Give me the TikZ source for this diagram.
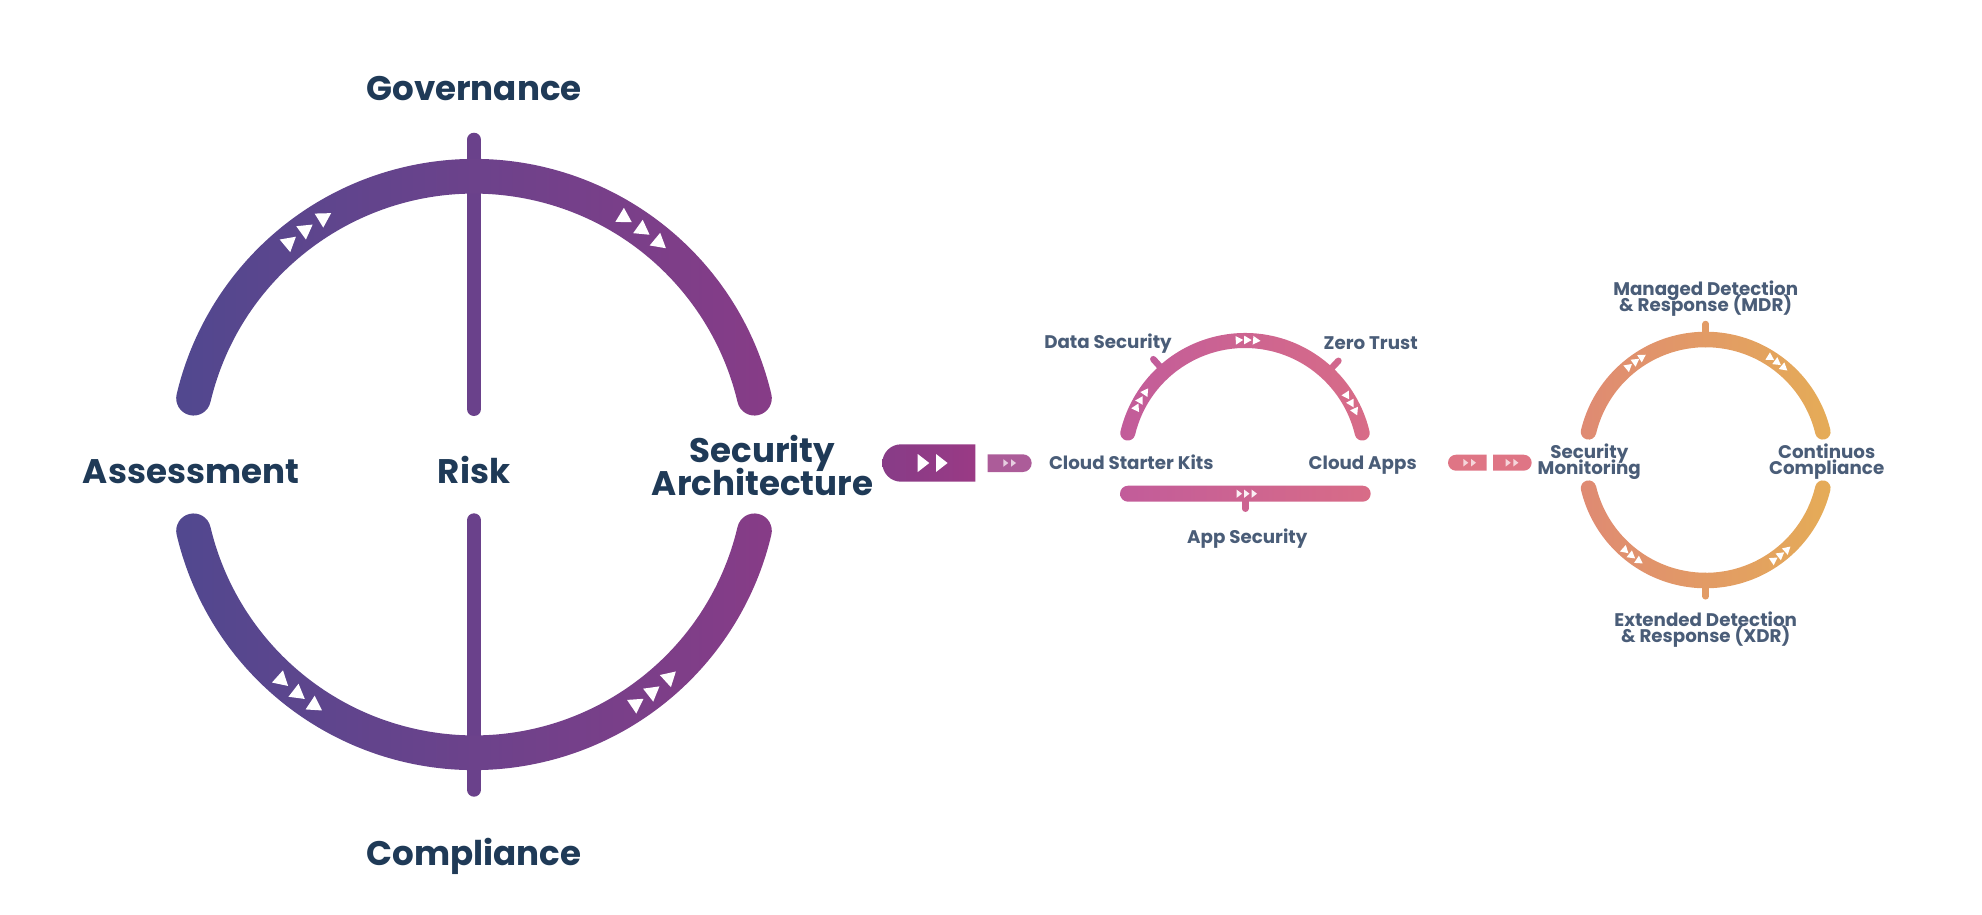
\documentclass[tikz,border=0pt]{standalone}
\usepackage{fontspec}
\setmainfont{Poppins}

\definecolor{headtext}{HTML}{1F3A57}
\definecolor{subtext}{HTML}{4A5D78}
\definecolor{bigleft}{HTML}{51488F}
\definecolor{bigright}{HTML}{873C87}
\definecolor{bigbarc}{HTML}{6A418B}
\definecolor{midleft}{HTML}{C25C9A}
\definecolor{midright}{HTML}{D86C87}
\definecolor{ringleft}{HTML}{DF8A73}
\definecolor{ringright}{HTML}{E5AC57}
\definecolor{pillend}{HTML}{9A3A85}
\definecolor{pillsmall}{HTML}{AC5C99}
\definecolor{pillpink}{HTML}{DF7585}

\newcommand{\headfont}{\fontsize{9.7}{9.4}\selectfont\bfseries\setlength{\lineskiplimit}{-9pt}}
\newcommand{\subfont}{\fontsize{5.2}{4.55}\selectfont\bfseries\setlength{\lineskiplimit}{-9pt}}

\tikzset{
    headlabel/.style={text=headtext,align=center,font=\headfont,inner sep=0pt},
    sublabel/.style={text=subtext,align=center,font=\subfont,inner sep=0pt},
    bigbar/.style={line width=.14cm,line cap=round,bigbarc},
    tickbar/.style={line width=.065cm,line cap=round},
    bigshade/.style={left color=bigleft,right color=bigright},
    midshade/.style={left color=midleft,right color=midright},
    ringshade/.style={left color=ringleft,right color=ringright}
}

% centre, radius, width, from, to, shade
\newcommand{\arcband}[6]{
    \pgfmathsetmacro\rout{#2+#3/2}
    \pgfmathsetmacro\rin{#2-#3/2}
    \pgfmathsetmacro\rcap{#3/2}
    \shade[#6,shift={(#1)}] (#4:\rout) arc[start angle=#4,end angle=#5,radius=\rout]
        arc[start angle=#5,delta angle=180,radius=\rcap]
        arc[start angle=#5,end angle=#4,radius=\rin]
        arc[start angle=#4+180,delta angle=180,radius=\rcap] -- cycle;
}
% centre, radius, angle, heading, size
\newcommand{\flowmark}[5]{
    \fill[white,shift={(#1)},shift={(#3:#2)},rotate=#4] (0:#5) -- (120:#5) -- (240:#5) -- cycle;
}
% left x, mid y, width, half height, opacity
\newcommand{\playmark}[5]{
    \fill[white,opacity=#5] (#1,#2-#4) -- (#1+#3,#2) -- (#1,#2+#4) -- cycle;
}

\begin{document}
\begin{tikzpicture}
\useasboundingbox (0,0) rectangle (19.82,9.14);

\coordinate (bigc) at (4.74,4.495);
\coordinate (midc) at (12.45,4.53);
\coordinate (ringc) at (17.057,4.54);

% big circle
\coordinate (govtop) at (4.74,7.743);
\coordinate (govend) at (4.74,5.05);
\coordinate (comtop) at (4.74,3.937);
\coordinate (comend) at (4.74,1.243);
\draw[bigbar] (govtop) -- (govend);
\draw[bigbar] (comtop) -- (comend);
\arcband{bigc}{2.882}{.347}{13.3}{166.7}{bigshade}
\arcband{bigc}{2.882}{.347}{193.3}{346.7}{bigshade}

\foreach \a in {121.5,125.8,129.9}
    {\flowmark{bigc}{2.89}{\a}{\a-90}{.095}}
\foreach \a in {50.3,54.5,58.8}
    {\flowmark{bigc}{2.89}{\a}{\a-90}{.095}}
\foreach \a in {228.1,232.3,236.4}
    {\flowmark{bigc}{2.89}{\a}{\a+90}{.095}}
\foreach \a in {304,308,312.4}
    {\flowmark{bigc}{2.89}{\a}{\a+90}{.095}}

\node[headlabel] (governance) at (4.74,8.258) {Governance};
\node[headlabel] (compliance) at (4.74,0.572) {Compliance};
\node[headlabel] (assessment) at (1.91,4.425) {Assessment};
\node[headlabel] (risk) at (4.74,4.437) {Risk};
\node[headlabel] (secarch) at (7.625,4.49) {Security\\Architecture};

% arrow pills
\shade[left color=bigright,right color=pillend] (9.753,4.697) -- (9.01,4.697)
    arc[start angle=90,end angle=270,radius=.187] -- (9.753,4.323) -- cycle;
\foreach \x in {9.177,9.36}
    {\playmark{\x}{4.51}{.116}{.09}{1}}
\fill[pillsmall] (9.877,4.597) -- (10.2285,4.597)
    arc[start angle=90,end angle=-90,radius=.0885] -- (9.877,4.42) -- cycle;
\foreach \x in {10.033,10.11}
    {\playmark{\x}{4.51}{.05}{.038}{.7}}

% middle arc
\coordinate (dataa) at ([shift={(132:1.25)}]midc);
\coordinate (datab) at ([shift={(132:1.37)}]midc);
\coordinate (zeroa) at ([shift={(47:1.25)}]midc);
\coordinate (zerob) at ([shift={(47:1.37)}]midc);
\draw[tickbar,midleft] (dataa) -- (datab);
\draw[tickbar,midright!70!midleft] (zeroa) -- (zerob);
\arcband{midc}{1.205}{.15}{13.4}{166.6}{midshade}
\foreach \a in {145.5,150,154}
    {\flowmark{midc}{1.21}{\a}{\a-90}{.05}}
\foreach \a in {85,89.2,93.2}
    {\flowmark{midc}{1.21}{\a}{\a-90}{.05}}
\foreach \a in {24.5,28.7,33}
    {\flowmark{midc}{1.21}{\a}{\a-90}{.05}}

\coordinate (appa) at (12.453,4.203);
\coordinate (appb) at (12.453,4.053);
\draw[tickbar,midleft!50!midright] (appa) -- (appb);
\shade[midshade,rounded corners=.08cm] (11.2,4.283) rectangle (13.707,4.123);
\foreach \x in {12.365,12.44,12.515}
    {\playmark{\x}{4.203}{.055}{.042}{.9}}

\node[sublabel] (datasec) at (11.08,5.708) {Data Security};
\node[sublabel] (zerotrust) at (13.707,5.71) {Zero Trust};
\node[sublabel] (starter) at (11.313,4.513) {Cloud Starter Kits};
\node[sublabel] (cloudapps) at (13.627,4.488) {Cloud Apps};
\node[sublabel] (appsec) at (12.473,3.755) {App Security};

% pink pills
\fill[pillpink] (14.867,4.593) -- (14.56,4.593)
    arc[start angle=90,end angle=270,radius=.08] -- (14.867,4.433) -- cycle;
\fill[pillpink] (14.93,4.593) -- (15.237,4.593)
    arc[start angle=90,end angle=-90,radius=.08] -- (14.93,4.433) -- cycle;
\foreach \x in {14.633,14.71,15.057,15.134}
    {\playmark{\x}{4.513}{.05}{.038}{.7}}

% right ring
\coordinate (mdra) at (17.057,5.7);
\coordinate (mdrb) at (17.057,5.90);
\coordinate (xdra) at (17.057,3.38);
\coordinate (xdrb) at (17.057,3.177);
\draw[tickbar,ringleft!50!ringright] (mdra) -- (mdrb);
\draw[tickbar,ringleft!50!ringright] (xdra) -- (xdrb);
\arcband{ringc}{1.205}{.155}{13.5}{166.5}{ringshade}
\arcband{ringc}{1.205}{.155}{193.5}{346.5}{ringshade}
\foreach \a in {122,125.7,129.9}
    {\flowmark{ringc}{1.21}{\a}{\a-90}{.05}}
\foreach \a in {50,54,58}
    {\flowmark{ringc}{1.21}{\a}{\a-90}{.05}}
\foreach \a in {228,232,236.3}
    {\flowmark{ringc}{1.21}{\a}{\a+90}{.05}}
\foreach \a in {304,308,312}
    {\flowmark{ringc}{1.21}{\a}{\a+90}{.05}}

\node[sublabel] (mdr) at (17.057,6.15) {Managed Detection\\\&~Response (MDR)};
\node[sublabel] (xdr) at (17.057,2.845) {Extended Detection\\\&~Response (XDR)};
\node[sublabel] (secmon) at (15.893,4.525) {Security\\Monitoring};
\node[sublabel] (contcomp) at (18.267,4.525) {Continuos\\Compliance};
\end{tikzpicture}
\end{document}
